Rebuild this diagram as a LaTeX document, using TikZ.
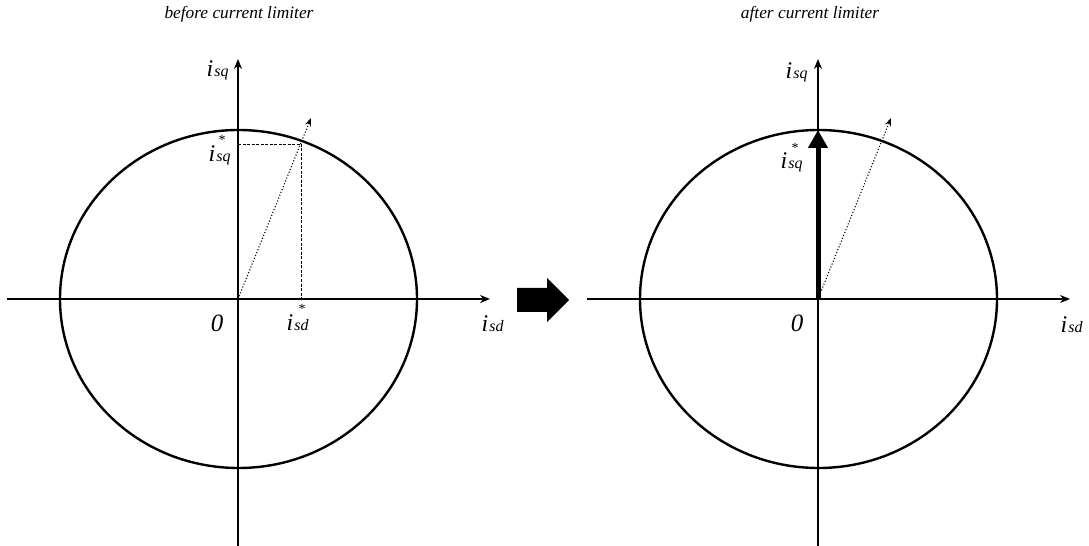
\documentclass[tikz,border=0pt]{standalone}
\usepackage{fontspec}
\setmainfont{Liberation Serif}
\usetikzlibrary{arrows.meta}
\newcommand{\bigi}{\fontsize{24}{24}\selectfont\itshape}
\newcommand{\subf}{\fontsize{16}{16}\selectfont\itshape}
\newcommand{\starf}{\fontsize{14}{14}\selectfont}
% \ilabel{name}{base position of i}{subscript}
\newcommand{\ilabel}[3]{%
  \node[lbl,anchor=base,font=\bigi] (#1) at (#2) {i};
  \node[lbl,anchor=base west,font=\subf] (#1s) at ([xshift=0.6bp]#1.base east) {#3};}
\begin{document}
\begin{tikzpicture}[x=1bp,y=-1bp,
  axis/.style={line width=1.6bp,-{Stealth[length=10bp,width=8bp]}},
  circ/.style={line width=2.4bp},
  vec/.style={line width=1.1bp,dotted,-{Stealth[length=8bp,width=6bp]}},
  proj/.style={line width=0.8bp,dash pattern=on 3bp off 1.5bp},
  big/.style={line width=5bp,-{Triangle[length=18bp,width=19bp]}},
  lbl/.style={inner sep=0pt},
  ttl/.style={inner sep=0pt,font=\fontsize{17.4}{17.4}\selectfont\itshape}]
\useasboundingbox (0,0) rectangle (1089,546);
% titles
\node[ttl] (t1) at (239,14) {before current limiter};
\node[ttl] (t2) at (810,14) {after current limiter};
% left diagram
\coordinate (o1) at (238,299);
\coordinate (xl1) at (7,299);
\coordinate (xr1) at (490,299);
\coordinate (yb1) at (238,546);
\coordinate (yt1) at (238,59);
\draw[circ] (238.5,299) ellipse [x radius=178.5, y radius=169];
\draw[axis] (xl1) -- (xr1);
\draw[axis] (yb1) -- (yt1);
\coordinate (v1) at (311,118);
\coordinate (p1) at (301,144);
\coordinate (q1) at (238,144);
\coordinate (r1) at (301,299);
\draw[proj] (q1) -- (p1) -- (r1);
\draw[vec] (o1) -- (v1);
\ilabel{lsq1}{210,77}{sq}
\ilabel{lsqs1}{212,162}{sq}
\node[lbl,font=\starf] (st1) at (222,140) {*};
\ilabel{lsds1}{290,331}{sd}
\node[lbl,font=\starf] (st2) at (302,309) {*};
\node[lbl,font=\fontsize{25}{25}\selectfont\itshape] (z1) at (217,323) {0};
\ilabel{lsd1}{485,332}{sd}
% block arrow
\fill (517,288) -- (547,288) -- (547,278) -- (569,300) -- (547,322) -- (547,312) -- (517,312) -- cycle;
% right diagram
\coordinate (o2) at (818,299);
\coordinate (xl2) at (587,299);
\coordinate (xr2) at (1070,299);
\coordinate (yb2) at (818,546);
\coordinate (yt2) at (818,59);
\coordinate (top2) at (818,130);
\draw[circ] (818.5,299) ellipse [x radius=178.5, y radius=169];
\draw[axis] (xl2) -- (xr2);
\draw[axis] (yb2) -- (yt2);
\coordinate (v2) at (891,118);
\draw[vec] (o2) -- (v2);
\draw[big] (o2) -- (top2);
\ilabel{lsq2}{789,79}{sq}
\ilabel{lsqs2}{784,169}{sq}
\node[lbl,font=\starf] (st3) at (795,148) {*};
\node[lbl,font=\fontsize{25}{25}\selectfont\itshape] (z2) at (797,323) {0};
\ilabel{lsd2}{1064,333}{sd}
\end{tikzpicture}
\end{document}
